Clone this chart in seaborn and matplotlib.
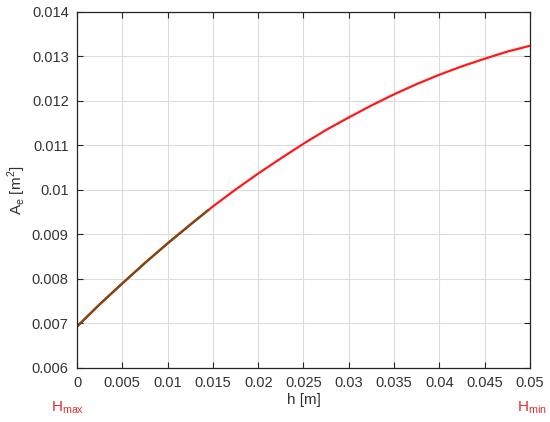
import numpy as np
import pandas as pd
import matplotlib.pyplot as plt
import seaborn as sns

# values
h = [0, 0.0025, 0.005, 0.0075, 0.01, 0.0125, 0.015, 0.0175, 0.02, 0.0225,
     0.025, 0.0275, 0.03, 0.0325, 0.035, 0.0375, 0.04, 0.0425, 0.045,
     0.0475, 0.05]
area = [0.00693, 0.00743, 0.00790, 0.00836, 0.00880, 0.00922, 0.00963,
        0.01001, 0.01037, 0.01071, 0.01104, 0.01135, 0.01163, 0.01190,
        0.01215, 0.01238, 0.01259, 0.01278, 0.01295, 0.01311, 0.01324]
# short overlapping series near h = 0
h_short = [0, 0.0025, 0.005, 0.0075, 0.01, 0.0125, 0.0145]
area_short = [0.00693, 0.00743, 0.00790, 0.00836, 0.00880, 0.00922, 0.00955]

df = pd.DataFrame({'h': h, 'A': area})
df_short = pd.DataFrame({'h': h_short, 'A': area_short})

sns.set_theme(style='whitegrid')
plt.rcParams['font.family'] = ['Liberation Sans', 'DejaVu Sans']

fig = plt.figure(figsize=(5.5, 4.22), dpi=100)
ax = fig.add_axes([0.14, 0.128, 0.8236, 0.8436])

sns.lineplot(data=df, x='h', y='A', color='#ff1a1a', linewidth=1.6, ax=ax)
sns.lineplot(data=df_short, x='h', y='A', color='#7a4a12', linewidth=1.6, ax=ax)

ax.set_xlim(0, 0.05)
ax.set_ylim(0.006, 0.014)
ax.set_xticks(np.arange(0, 0.0501, 0.005))
ax.set_yticks(np.arange(0.006, 0.01401, 0.001))
ax.set_xticklabels(['0', '0.005', '0.01', '0.015', '0.02', '0.025', '0.03',
                    '0.035', '0.04', '0.045', '0.05'])
ax.set_yticklabels(['0.006', '0.007', '0.008', '0.009', '0.01', '0.011',
                    '0.012', '0.013', '0.014'])

ax.grid(True, color='#dcdcdc', linewidth=0.8)
for s in ax.spines.values():
    s.set_color('#262626')
    s.set_linewidth(0.9)
ax.tick_params(direction='in', length=4, width=0.8, colors='#262626',
               labelcolor='#333333', labelsize=10.5, top=True, right=True,
               bottom=True, left=True, pad=6)

ax.set_xlabel('h [m]', fontsize=11, color='#333333', labelpad=2)
ax.set_ylabel(r'A$_\mathregular{e}$ [m$^\mathregular{2}$]', fontsize=11,
              color='#333333', labelpad=3)

fig.text(0.093, 0.025, r'H$_\mathregular{max}$', color='#e03030', fontsize=11)
fig.text(0.94, 0.025, r'H$_\mathregular{min}$', color='#e03030', fontsize=11)

fig.savefig('out.png', dpi=100)
